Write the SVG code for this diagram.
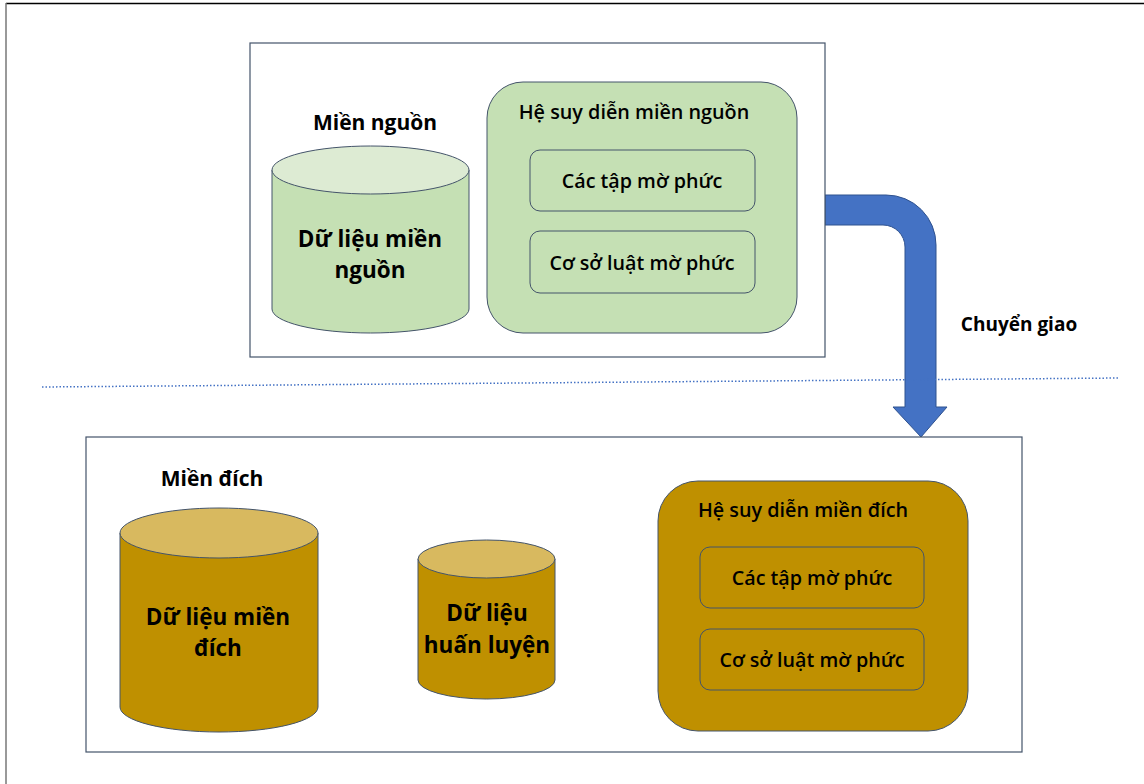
<svg xmlns="http://www.w3.org/2000/svg" width="1144" height="784" viewBox="0 0 1144 784">
<style>
.frame{fill:#fff;stroke:#44546A;stroke-width:1.2}
.gbody{fill:#C5E0B4;stroke:#44546A;stroke-width:1}
.gtop{fill:#DDEBD3;stroke:#44546A;stroke-width:1}
.ybody{fill:#BF9000;stroke:#44546A;stroke-width:1}
.ytop{fill:#D8B95F;stroke:#44546A;stroke-width:1}
.inner{stroke:#44546A;stroke-width:1}
.arrow{fill:#4472C4;stroke:#2F528F;stroke-width:1}
text{font-family:"Open Sans","Liberation Sans",sans-serif;fill:#000;text-anchor:middle}
.lbl{font-size:21px;font-weight:bold}
.big{font-size:22.5px;font-weight:bold}
.ttl{font-size:19.8px;font-weight:600}
.in{font-size:19.7px;font-weight:600}
</style>
<line x1="6" y1="3.5" x2="1144" y2="3.5" stroke="#000" stroke-width="1.5"/>
<line x1="6" y1="3" x2="6" y2="784" stroke="#777" stroke-width="1.5"/>

<g id="connectors">
  <path class="arrow" d="M825,195 L886,195 A50,50 0 0 1 936,245 L936,407 L947,407 L921,437 L893,407 L905,407 L905,247 A22,22 0 0 0 883,225 L825,225 Z"/>
  <line x1="42" y1="387" x2="1120" y2="378" stroke="#4472C4" stroke-width="1.5" stroke-dasharray="1.5,2"/>
  <path class="arrow" d="M328,616 L372,616 L372,604 L402,626 L372,648 L372,636 L328,636 Z"/>
  <path class="arrow" d="M568,610 L614,610 L614,598 L643,620 L614,642 L614,630 L568,630 Z"/>
</g>

<g id="source-domain">
  <rect class="frame" x="250" y="43" width="575" height="314"/>
  <text class="lbl" x="375" y="130">Miền nguồn</text>
</g>

<g id="source-data">
  <path class="gbody" d="M272,170 L272,309 A98.5,24 0 0 0 469,309 L469,170 Z"/>
  <ellipse class="gtop" cx="370.5" cy="170" rx="98.5" ry="24"/>
  <text class="big" x="370" y="247">Dữ liệu miền</text>
  <text class="big" x="370" y="278">nguồn</text>
</g>

<g id="source-inference">
  <rect class="gbody" x="487" y="82" width="310" height="251" rx="36"/>
  <text class="ttl" x="634" y="119">Hệ suy diễn miền nguồn</text>
  <rect class="inner" fill="#C5E0B4" x="530" y="150" width="225" height="61" rx="10"/>
  <text class="in" x="642" y="188">Các tập mờ phức</text>
  <rect class="inner" fill="#C5E0B4" x="530" y="231" width="225" height="62" rx="10"/>
  <text class="in" x="642" y="270">Cơ sở luật mờ phức</text>
</g>

<g id="transfer-label">
  <text x="1019" y="331" style="font-size:19px;font-weight:bold">Chuyển giao</text>
</g>

<g id="target-domain">
  <rect class="frame" x="86" y="437" width="936" height="315"/>
  <text class="lbl" x="212" y="486">Miền đích</text>
</g>

<g id="target-data">
  <path class="ybody" d="M120,533 L120,707 A99,25 0 0 0 318,707 L318,533 Z"/>
  <ellipse class="ytop" cx="219" cy="533" rx="99" ry="25"/>
  <text class="big" x="218" y="625">Dữ liệu miền</text>
  <text class="big" x="218" y="656">đích</text>
</g>

<g id="training-data">
  <path class="ybody" d="M418,559 L418,680 A68.5,19 0 0 0 555,680 L555,559 Z"/>
  <ellipse class="ytop" cx="486.5" cy="559" rx="68.5" ry="19"/>
  <text class="big" x="487" y="621">Dữ liệu</text>
  <text class="big" x="487" y="653">huấn luyện</text>
</g>

<g id="target-inference">
  <rect class="ybody" x="658" y="481" width="310" height="250" rx="40"/>
  <text class="ttl" x="803" y="517">Hệ suy diễn miền đích</text>
  <rect class="inner" fill="#BF9000" x="700" y="547" width="224" height="61" rx="10"/>
  <text class="in" x="812" y="585">Các tập mờ phức</text>
  <rect class="inner" fill="#BF9000" x="700" y="629" width="224" height="61" rx="10"/>
  <text class="in" x="812" y="667">Cơ sở luật mờ phức</text>
</g>
</svg>
